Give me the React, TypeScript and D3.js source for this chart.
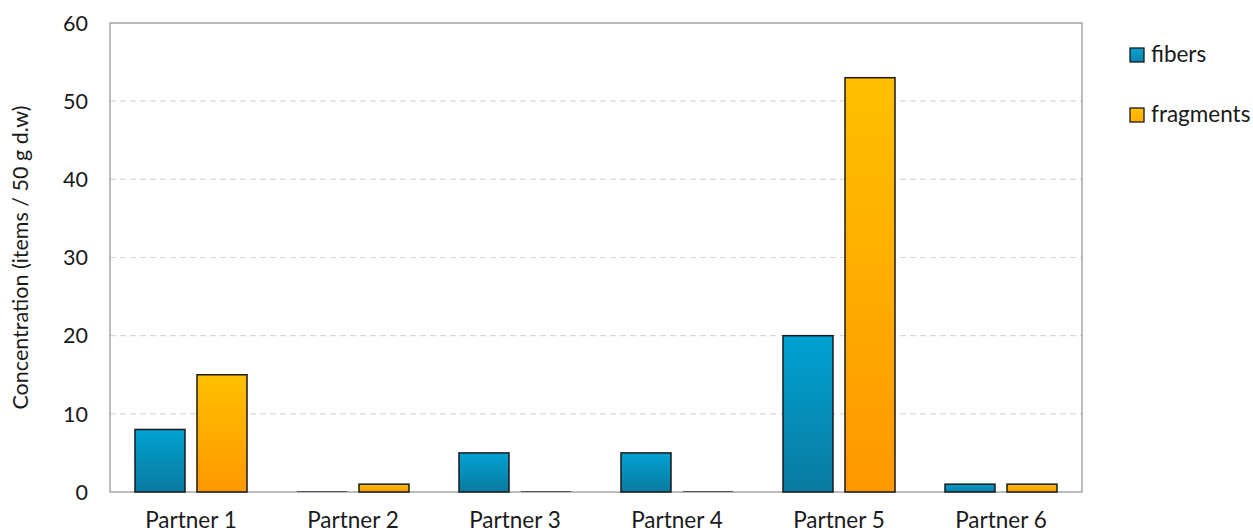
import React from "react";
import * as d3 from "d3";

const categories = ["Partner 1", "Partner 2", "Partner 3", "Partner 4", "Partner 5", "Partner 6"];
const seriesNames = ["fibers", "fragments"];
const fibers = [8, 0, 5, 5, 20, 1];
const fragments = [15, 1, 0, 0, 53, 1];
const yTicks = [0, 10, 20, 30, 40, 50, 60];

const W = 1253, H = 532;
const M = { left: 110, right: 1082, top: 23, bottom: 492 };
const FONT = "Lato, 'Open Sans', 'DejaVu Sans', sans-serif";

export default function App() {
  const x = d3.scaleBand<string>().domain(categories).range([M.left, M.right]).paddingInner(0).paddingOuter(0);
  const inner = d3.scaleBand<string>().domain(seriesNames).range([0, x.bandwidth()]).paddingInner(0.1935).paddingOuter(0.403);
  const y = d3.scaleLinear().domain([0, 60]).range([M.bottom, M.top]);
  const series = [
    { name: "fibers", values: fibers, grad: "gFib" },
    { name: "fragments", values: fragments, grad: "gFrag" },
  ];
  return (
    <svg width={W} height={H} style={{ position: "absolute", left: 0, top: 0, background: "#fff" }} fontFamily={FONT}>
      <defs>
        <linearGradient id="gFib" x1="0" y1="0" x2="0" y2="1">
          <stop offset="0" stopColor="#00a2d3" />
          <stop offset="1" stopColor="#0a7a9f" />
        </linearGradient>
        <linearGradient id="gFrag" x1="0" y1="0" x2="0" y2="1">
          <stop offset="0" stopColor="#ffc000" />
          <stop offset="1" stopColor="#ff9800" />
        </linearGradient>
        <linearGradient id="gFibL" x1="0" y1="0" x2="0" y2="1">
          <stop offset="0" stopColor="#00a2d3" />
          <stop offset="1" stopColor="#0a86ad" />
        </linearGradient>
        <linearGradient id="gFragL" x1="0" y1="0" x2="0" y2="1">
          <stop offset="0" stopColor="#ffc000" />
          <stop offset="1" stopColor="#ffae00" />
        </linearGradient>
      </defs>
      {yTicks.filter((t) => t > 0 && t < 60).map((t) => (
        <line key={t} x1={M.left} x2={M.right} y1={y(t)} y2={y(t)} stroke="#d9d9d9" strokeWidth={1.2} strokeDasharray="6,4" />
      ))}
      <rect x={M.left} y={M.top} width={M.right - M.left} height={M.bottom - M.top} fill="none" stroke="#a6a6a6" strokeWidth={1.5} />
      {series.map((s) =>
        categories.map((c, i) => {
          const v = s.values[i];
          const bx = (x(c) as number) + (inner(s.name) as number);
          const top = y(v);
          if (v === 0) {
            return <line key={s.name + c} x1={bx} x2={bx + inner.bandwidth()} y1={M.bottom - 0.5} y2={M.bottom - 0.5} stroke="#555" strokeWidth={1.2} />;
          }
          return (
            <rect key={s.name + c} x={bx} y={top} width={inner.bandwidth()} height={M.bottom - top}
              fill={`url(#${s.grad})`} stroke="#1a1a1a" strokeWidth={1.5} />
          );
        })
      )}
      {yTicks.map((t) => (
        <text key={t} x={88} y={y(t)} dy="0.36em" textAnchor="end" fontSize={21.5} fill="#1a1a1a">{t}</text>
      ))}
      {categories.map((c) => (
        <text key={c} x={(x(c) as number) + x.bandwidth() / 2} y={528} textAnchor="middle" fontSize={22.5} fill="#1a1a1a">{c}</text>
      ))}
      <text transform={`translate(28,${(M.top + M.bottom) / 2}) rotate(-90)`} textAnchor="middle" fontSize={21.5} fill="#1a1a1a">
        Concentration (items / 50 g d.w)
      </text>
      {seriesNames.map((n, i) => (
        <g key={n} transform={`translate(1130,${48 + i * 60})`}>
          <rect x={0} y={0} width={14} height={14} fill={i === 0 ? "url(#gFibL)" : "url(#gFragL)"} stroke="#1a1a1a" strokeWidth={1.3} />
          <text x={21} y={14} fontSize={22.5} fill="#1a1a1a">{n}</text>
        </g>
      ))}
    </svg>
  );
}
